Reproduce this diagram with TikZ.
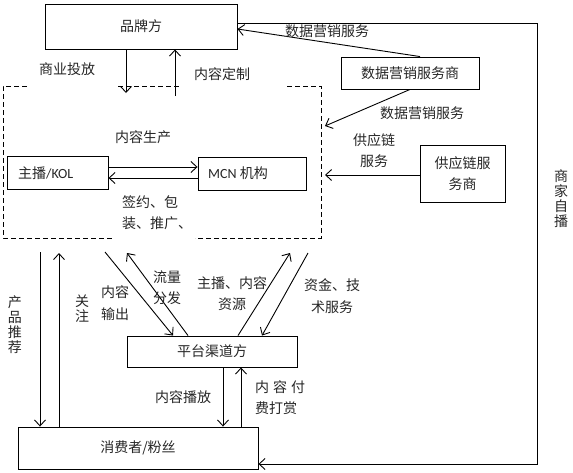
\documentclass[tikz,border=0pt]{standalone}
\usepackage{fontspec}
\setmainfont{Noto Sans CJK SC}
\newfontfamily\lat{Carlito}
\usetikzlibrary{arrows.meta}
\begin{document}
\begin{tikzpicture}[x=1pt,y=-1pt,
  every node/.style={font=\fontsize{14}{21.5}\selectfont, text=black!85},
  box/.style={draw, line width=0.9pt, inner sep=0pt},
  lbl/.style={inner sep=0pt, align=center},
  vlbl/.style={inner sep=0pt, align=center, font=\fontsize{14}{15}\selectfont},
  conn/.style={line width=0.9pt},
  arr/.style={conn, -{Straight Barb[length=6pt,width=11pt,line width=0.9pt]}},
  dbox/.style={line width=0.9pt, dash pattern=on 5pt off 3pt}]
\useasboundingbox (0,0) rectangle (573,472);

% boxes
\node[box, minimum width=192pt, minimum height=45pt] (brand) at (141,26.5) {品牌方};
\node[box, minimum width=138pt, minimum height=32pt] (data) at (410,73) {数据营销服务商};
\node[box, minimum width=101pt, minimum height=33pt] (kol) at (57.5,172.5) {};
\node[lbl, anchor=west] (kolt) at (18,173) {主播{\lat /KOL}};
\node[box, minimum width=108pt, minimum height=33pt] (mcn) at (252,173.5) {};
\node[lbl, anchor=west] (mcnt) at (208,173) {{\lat MCN} 机构};
\node[box, minimum width=85pt, minimum height=57pt, align=center] (sup) at (462.5,173.5) {供应链服\\务商};
\node[box, minimum width=170pt, minimum height=31pt] (plat) at (212,351.5) {平台渠道方};
\node[box, minimum width=240pt, minimum height=42pt] (cons) at (138,448) {消费者/粉丝};

% dashed frame
\draw[dbox] (27,86) -- (3,86) -- (3,238) -- (112,238);
\draw[dbox] (118,86) -- (180,86);
\draw[dbox] (287,86) -- (321,86) -- (321,238) -- (195,238);

% free ends
\coordinate (bizend) at (126,93);
\coordinate (cusstart) at (175,96);
\coordinate (dataend) at (325,126);
\coordinate (supend) at (325,175);
\coordinate (pa) at (40,252);
\coordinate (pb) at (59,253);
\coordinate (q1) at (105,252);
\coordinate (q2) at (127,253);
\coordinate (q3) at (290,253);
\coordinate (q4) at (308,253);

% connectors
\draw[arr] (126,0 |- brand.south) -- (bizend);
\draw[arr] (cusstart) -- (175,0 |- brand.south);
\draw[arr] (420,0 |- data.north) -- (brand.east |- 0,29);
\draw[arr] (410,0 |- data.south) -- (dataend);
\draw[arr] (sup.west |- 0,175) -- (supend);
\draw[arr] (kol.east |- 0,167) -- (mcn.west |- 0,167);
\draw[arr] (mcn.west |- 0,178) -- (kol.east |- 0,178);
\draw[arr] (pa) -- (40,0 |- cons.north);
\draw[arr] (59,0 |- cons.north) -- (pb);
\draw[arr] (q1) -- (173,0 |- plat.north);
\draw[arr] (188,0 |- plat.north) -- (q2);
\draw[arr] (238,0 |- plat.north) -- (q3);
\draw[arr] (q4) -- (262,0 |- plat.north);
\draw[arr] (223,0 |- plat.south) -- (223,0 |- cons.north);
\draw[arr] (241,0 |- cons.north) -- (241,0 |- plat.south);
\draw[arr] (brand.east |- 0,23) -- (537,23) -- (537,464) -- (cons.east |- 0,464);

% labels
\node[lbl] (l1) at (67,69) {商业投放};
\node[lbl] (l2) at (222,74) {内容定制};
\node[lbl] (l3) at (327,31) {数据营销服务};
\node[lbl] (l4) at (422,113) {数据营销服务};
\node[lbl] (l5) at (374,150.5) {供应链\\服务};
\node[lbl] (l6) at (143,137) {内容生产};
\node[lbl, align=left, anchor=west] (l7) at (122,212.5) {签约、包\\装、推广、};
\node[lbl] (l8) at (115,303) {内容\\输出};
\node[lbl] (l9) at (167,287.5) {流量\\分发};
\node[lbl] (l10) at (232,293.5) {主播、内容\\资源};
\node[lbl] (l11) at (332,296) {资金、技\\术服务};
\node[lbl] (l12) at (183,397) {内容播放};
\node[lbl, align=left, anchor=west] (l13) at (255,397.5) {内\hspace{4pt}容\hspace{4pt}付\\费打赏};
\node[vlbl] (l14) at (15,324.5) {产\\品\\推\\荐};
\node[vlbl] (l15) at (82,309) {关\\注};
\node[vlbl] (l16) at (561,198.5) {商\\家\\自\\播};
\end{tikzpicture}
\end{document}
